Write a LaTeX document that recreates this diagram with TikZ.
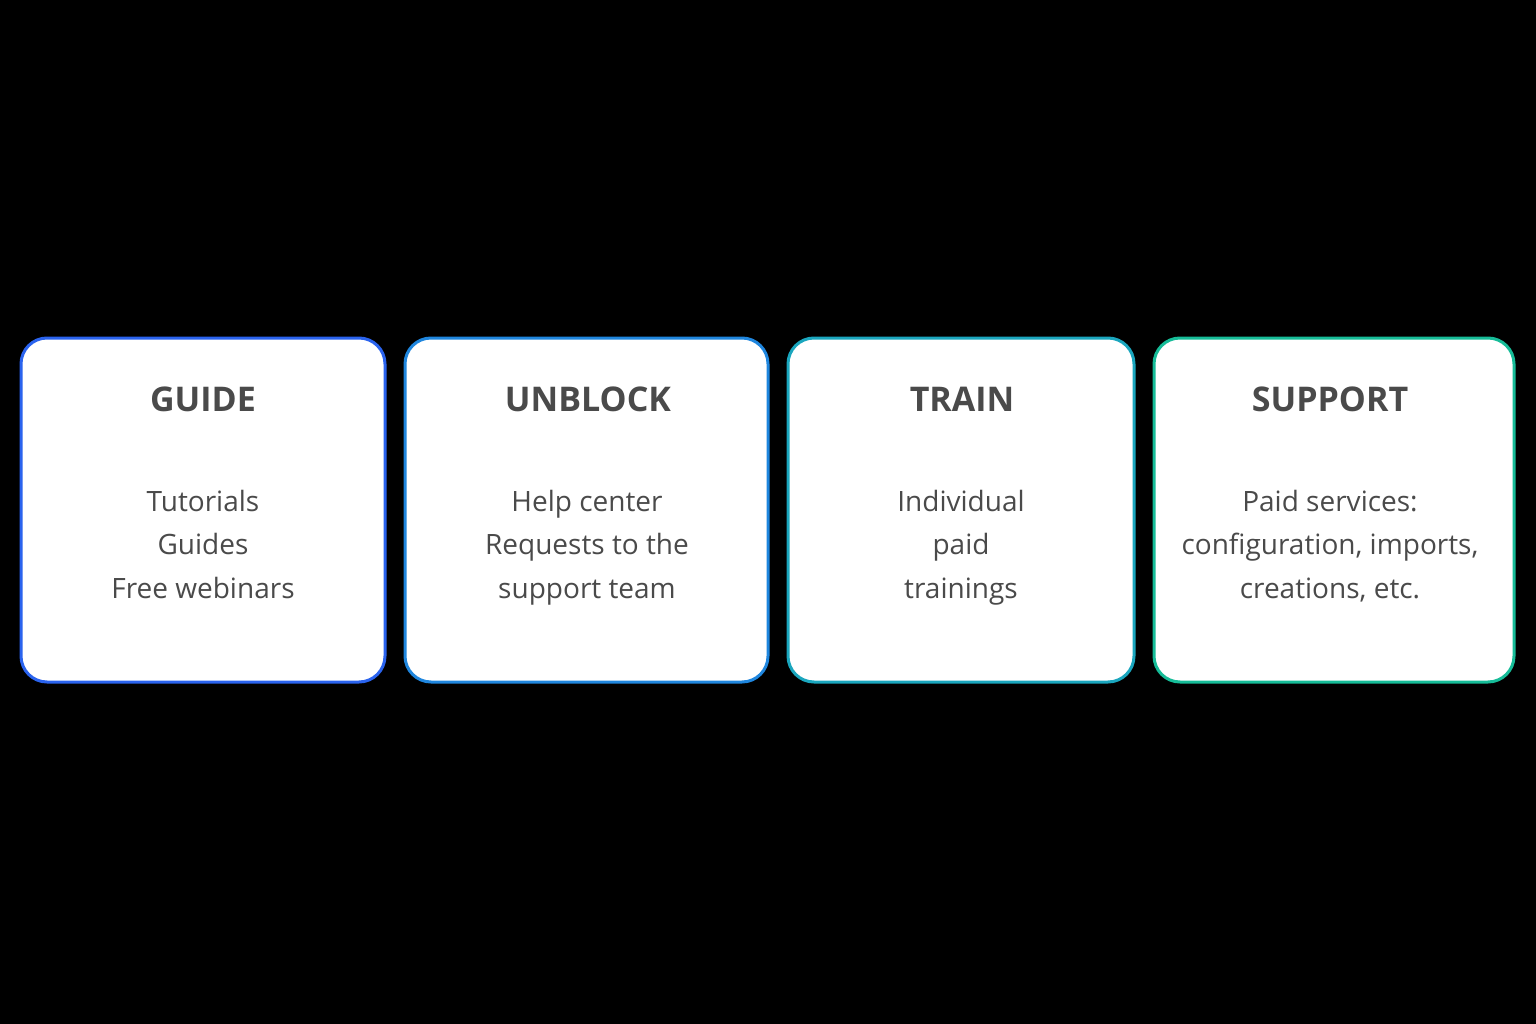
\documentclass[tikz,border=0pt]{standalone}
\usepackage{fontspec}
\setmainfont{Open Sans}
\definecolor{txt}{HTML}{4A4A4A}
\definecolor{cA}{HTML}{2A63EE}
\definecolor{cB}{HTML}{1F86DE}
\definecolor{cC}{HTML}{1AA6BE}
\definecolor{cD}{HTML}{16BC98}
\tikzset{
  card/.style={draw=#1, line width=3pt, fill=white, rounded corners=26pt},
  ttl/.style={text=txt, font=\fontsize{34}{40}\selectfont\bfseries, anchor=center},
  body/.style={text=txt, font=\fontsize{28}{43.5}\selectfont, align=center, anchor=center, text depth=0pt},
}
\begin{document}
\begin{tikzpicture}[x=1pt,y=-1pt]
\useasboundingbox[fill=black] (0,0) rectangle (1536,1024);
\draw[card=cA] (21,338) rectangle (385,682);
\draw[card=cB] (405,338) rectangle (768,682);
\draw[card=cC] (788,338) rectangle (1134,682);
\draw[card=cD] (1154,338) rectangle (1514,682);
\node[ttl] (t1) at (203,399) {GUIDE};
\node[ttl] (t2) at (588,399) {UNBLOCK};
\node[ttl] (t3) at (962,399) {TRAIN};
\node[ttl] (t4) at (1330,399) {SUPPORT};
\node[body] (b1) at (203,544) {Tutorials\\Guides\\Free webinars};
\node[body] (b2) at (587,544) {Help center\\Requests to the\\support team};
\node[body] (b3) at (961,544) {Individual\\paid\\trainings};
\node[body] (b4) at (1330,544) {Paid services:\\configuration, imports,\\creations, etc.};
\end{tikzpicture}
\end{document}
